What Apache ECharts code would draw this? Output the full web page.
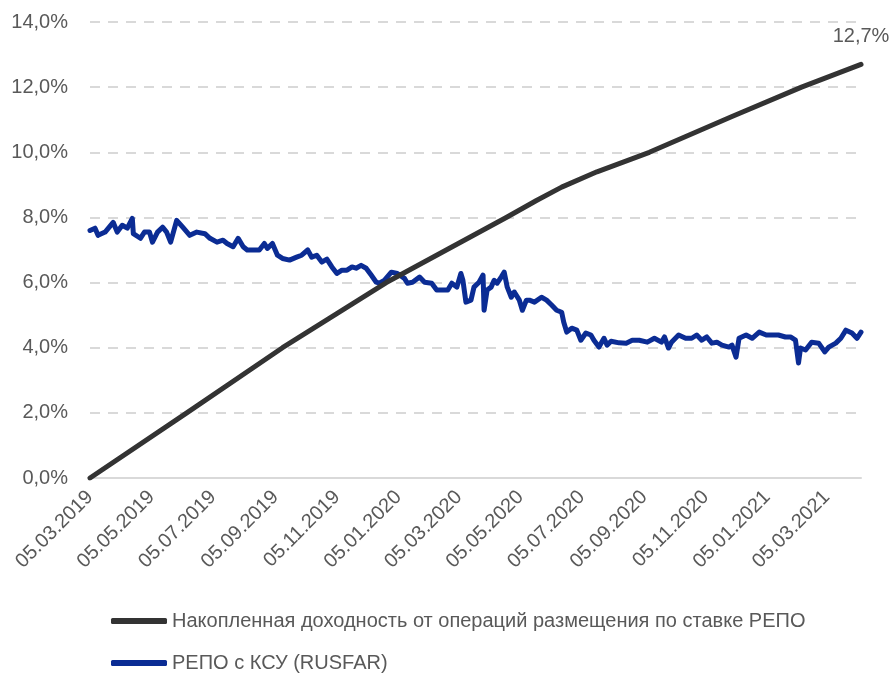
<!DOCTYPE html>
<html>
<head>
<meta charset="utf-8" />
<title></title>
<script src="https://cdn.jsdelivr.net/npm/echarts@6/dist/echarts.min.js"></script>
<style>
  * { margin: 0; padding: 0; }
  html, body { width: 100%; height: 100%; background: #fff; }
  #main { width: 891px; height: 677px; }
</style>
</head>
<body>
<div id="main"></div>
<script>
// накопленная доходность, %
var cumDates = ['2019-03-05', '2019-06-09', '2019-09-12', '2019-12-24', '2020-04-21', '2020-05-21',
  '2020-06-15', '2020-07-20', '2020-09-10', '2020-12-01', '2021-02-08', '2021-04-08'];
var cumValues = [0, 2.0, 4.0, 6.0, 8.0, 8.52, 8.93, 9.40, 10.0, 11.1, 12.0, 12.7];

// RUSFAR, %
var repoDates = [
  '2019-03-05', '2019-03-10', '2019-03-13', '2019-03-20', '2019-03-28', '2019-04-01', '2019-04-06', '2019-04-11',
  '2019-04-16', '2019-04-17', '2019-04-24', '2019-04-28', '2019-05-03', '2019-05-06', '2019-05-11', '2019-05-16',
  '2019-05-20', '2019-05-24', '2019-05-30', '2019-06-05', '2019-06-12', '2019-06-19', '2019-06-27', '2019-07-02',
  '2019-07-09', '2019-07-15', '2019-07-19', '2019-07-25', '2019-07-30', '2019-08-04', '2019-08-08', '2019-08-13',
  '2019-08-20', '2019-08-25', '2019-08-28', '2019-09-02', '2019-09-07', '2019-09-12', '2019-09-19', '2019-09-26',
  '2019-10-01', '2019-10-07', '2019-10-11', '2019-10-16', '2019-10-21', '2019-10-26', '2019-10-31', '2019-11-05',
  '2019-11-10', '2019-11-15', '2019-11-20', '2019-11-24', '2019-11-29', '2019-12-04', '2019-12-09', '2019-12-14',
  '2019-12-17', '2019-12-22', '2019-12-29', '2020-01-04', '2020-01-11', '2020-01-14', '2020-01-19', '2020-01-26',
  '2020-01-31', '2020-02-07', '2020-02-12', '2020-02-17', '2020-02-23', '2020-02-27', '2020-03-03', '2020-03-07',
  '2020-03-09', '2020-03-12', '2020-03-17', '2020-03-20', '2020-03-25', '2020-03-29', '2020-03-30', '2020-04-02',
  '2020-04-06', '2020-04-09', '2020-04-12', '2020-04-16', '2020-04-19', '2020-04-22', '2020-04-26', '2020-04-29',
  '2020-05-04', '2020-05-07', '2020-05-11', '2020-05-14', '2020-05-19', '2020-05-26', '2020-05-31', '2020-06-05',
  '2020-06-10', '2020-06-15', '2020-06-17', '2020-06-20', '2020-06-25', '2020-06-30', '2020-07-04', '2020-07-09',
  '2020-07-14', '2020-07-17', '2020-07-22', '2020-07-27', '2020-07-30', '2020-08-03', '2020-08-11', '2020-08-18',
  '2020-08-24', '2020-08-31', '2020-09-08', '2020-09-15', '2020-09-22', '2020-09-25', '2020-09-29', '2020-10-02',
  '2020-10-09', '2020-10-16', '2020-10-22', '2020-10-27', '2020-11-01', '2020-11-06', '2020-11-11', '2020-11-16',
  '2020-11-21', '2020-11-28', '2020-12-01', '2020-12-05', '2020-12-08', '2020-12-15', '2020-12-21', '2020-12-28',
  '2021-01-04', '2021-01-10', '2021-01-16', '2021-01-23', '2021-01-28', '2021-02-02', '2021-02-05', '2021-02-07',
  '2021-02-12', '2021-02-18', '2021-02-25', '2021-03-03', '2021-03-07', '2021-03-14', '2021-03-19', '2021-03-24',
  '2021-03-30', '2021-04-04', '2021-04-08'
];
var repoValues = [
  7.60, 7.67, 7.45, 7.55, 7.85, 7.55, 7.76, 7.67,
  7.97, 7.50, 7.36, 7.55, 7.55, 7.24, 7.55, 7.70,
  7.55, 7.24, 7.91, 7.70, 7.45, 7.55, 7.50, 7.36,
  7.24, 7.30, 7.20, 7.10, 7.36, 7.10, 7.00, 7.00,
  7.00, 7.20, 7.05, 7.20, 6.84, 6.74, 6.69, 6.78,
  6.84, 7.00, 6.78, 6.84, 6.63, 6.72, 6.48, 6.28,
  6.38, 6.38, 6.48, 6.44, 6.53, 6.44, 6.23, 6.01,
  5.98, 6.07, 6.32, 6.28, 6.13, 5.98, 6.01, 6.17,
  6.01, 5.98, 5.77, 5.77, 5.77, 5.98, 5.86, 6.28,
  6.07, 5.40, 5.46, 5.86, 6.01, 6.23, 5.15, 5.77,
  5.86, 6.07, 5.98, 6.17, 6.32, 5.86, 5.55, 5.71,
  5.46, 5.15, 5.46, 5.46, 5.40, 5.55, 5.46, 5.31,
  5.15, 5.09, 4.79, 4.48, 4.60, 4.54, 4.23, 4.45,
  4.39, 4.23, 4.02, 4.29, 4.08, 4.20, 4.15, 4.14,
  4.23, 4.23, 4.17, 4.29, 4.17, 4.33, 3.99, 4.17,
  4.39, 4.29, 4.29, 4.39, 4.23, 4.33, 4.14, 4.17,
  4.08, 4.02, 4.08, 3.71, 4.29, 4.39, 4.29, 4.48,
  4.39, 4.39, 4.39, 4.33, 4.33, 4.23, 3.53, 3.99,
  3.93, 4.17, 4.14, 3.87, 4.02, 4.14, 4.29, 4.54,
  4.45, 4.29, 4.48
];

// подписи оси X
var tickDates = ['2019-03-05', '2019-05-05', '2019-07-05', '2019-09-05', '2019-11-05', '2020-01-05',
  '2020-03-05', '2020-05-05', '2020-07-05', '2020-09-05', '2020-11-05', '2021-01-05', '2021-03-05'];

var seriesNames = ['Накопленная доходность от операций размещения по ставке РЕПО', 'РЕПО с КСУ (RUSFAR)'];

var FONT = "'Liberation Sans', Arial, sans-serif";
var TXT = '#595959';

function ts(s) {
  var p = s.split('-');
  return new Date(+p[0], +p[1] - 1, +p[2]).getTime();
}
function pad(n) { return n < 10 ? '0' + n : '' + n; }
function fmtDate(v) {
  var d = new Date(v);
  return pad(d.getDate()) + '.' + pad(d.getMonth() + 1) + '.' + d.getFullYear();
}
function pct(v) { return v.toFixed(1).replace('.', ',') + '%'; }

var cumData = cumDates.map(function (d, i) { return [ts(d), cumValues[i]]; });
var repoData = repoDates.map(function (d, i) { return [ts(d), repoValues[i]]; });

var myChart = echarts.init(document.getElementById('main'));
myChart.setOption({
  animation: false,
  grid: { left: 90, right: 30, top: 22, bottom: 199 },
  legend: {
    orient: 'vertical',
    left: 111,
    top: 611,
    padding: 0,
    itemWidth: 56,
    itemHeight: 6,
    itemGap: 22,
    icon: 'roundRect',
    textStyle: { color: TXT, fontSize: 20, fontFamily: FONT },
    data: seriesNames
  },
  xAxis: {
    type: 'value',
    min: ts('2019-03-05'),
    max: ts('2021-04-08'),
    axisLine: { show: true, lineStyle: { color: '#d9d9d9', width: 2 } },
    axisTick: { show: false },
    splitLine: { show: false },
    axisLabel: {
      customValues: tickDates.map(ts),
      rotate: 45,
      margin: 16,
      color: TXT,
      fontSize: 20,
      fontFamily: FONT,
      formatter: fmtDate
    }
  },
  yAxis: {
    type: 'value',
    min: 0,
    max: 14,
    interval: 2,
    axisLine: { show: false },
    axisTick: { show: false },
    axisLabel: { margin: 22, color: TXT, fontSize: 20, fontFamily: FONT, formatter: pct },
    splitLine: { lineStyle: { color: '#d9d9d9', type: [10, 8], width: 2 } }
  },
  series: [
    {
      name: seriesNames[0],
      type: 'line',
      data: cumData,
      showSymbol: false,
      symbol: 'none',
      color: '#333333',
      lineStyle: { width: 5, cap: 'round', join: 'round' },
      endLabel: {
        show: true,
        formatter: function (p) { return pct(p.value[1]); },
        align: 'center',
        verticalAlign: 'bottom',
        distance: 0,
        offset: [0, -18],
        color: TXT,
        fontSize: 20,
        fontFamily: FONT
      },
      z: 3
    },
    {
      name: seriesNames[1],
      type: 'line',
      data: repoData,
      showSymbol: false,
      symbol: 'none',
      color: '#0b2c94',
      lineStyle: { width: 5, cap: 'round', join: 'round' },
      z: 2
    }
  ]
});
</script>
</body>
</html>
